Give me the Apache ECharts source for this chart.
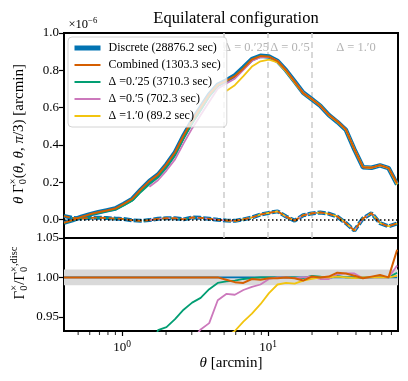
<!DOCTYPE html>
<html>
<head>
<meta charset="utf-8">
<script src="https://cdn.jsdelivr.net/npm/echarts@6.0.0/dist/echarts.min.js"></script>
<style>
  html, body { margin: 0; padding: 0; background: #fff; }
  #chart { width: 408px; height: 381px; }
</style>
</head>
<body>
<div id="chart"></div>
<script>
// theta bins [arcmin]
const theta = [0.400, 0.458, 0.524, 0.599, 0.686, 0.785, 0.898, 1.027, 1.175, 1.345,
  1.539, 1.761, 2.014, 2.305, 2.637, 3.018, 3.453, 3.951, 4.520, 5.172,
  5.918, 6.772, 7.748, 8.866, 10.14, 11.61, 13.28, 15.20, 17.39, 19.90,
  22.76, 26.05, 29.80, 34.10, 39.02, 44.65, 51.09, 58.45, 66.88, 76.53]

// theta * Gamma_0 (x 1e-6), main curves
const discMain = [-0.018, -0.004, 0.013, 0.027, 0.038, 0.048, 0.058, 0.083, 0.110, 0.160,
  0.205, 0.240, 0.295, 0.360, 0.450, 0.530, 0.600, 0.670, 0.722, 0.745,
  0.772, 0.815, 0.860, 0.878, 0.874, 0.850, 0.800, 0.740, 0.680, 0.645,
  0.610, 0.560, 0.523, 0.480, 0.375, 0.280, 0.277, 0.290, 0.275, 0.187]
const combMain = [-0.018, -0.004, 0.013, 0.027, 0.038, 0.048, 0.058, 0.083, 0.110, 0.160,
  0.205, 0.240, 0.295, 0.360, 0.450, 0.530, 0.600, 0.670, 0.722, 0.743,
  0.768, 0.810, 0.858, 0.876, 0.873, 0.849, 0.800, 0.739, 0.677, 0.646,
  0.610, 0.561, 0.526, 0.482, 0.376, 0.280, 0.277, 0.291, 0.275, 0.194]
const g025Main = [-0.020, -0.006, 0.011, 0.024, 0.034, 0.043, 0.052, 0.075, 0.100, 0.147,
  0.188, 0.224, 0.276, 0.341, 0.432, 0.513, 0.584, 0.660, 0.717, 0.741,
  0.769, 0.813, 0.859, 0.878, 0.874, 0.850, 0.800, 0.740, 0.679, 0.646,
  0.611, 0.559, 0.524, 0.480, 0.375, 0.280, 0.277, 0.290, 0.275, 0.188]
const g05Main = [null, null, null, null, null, null, null, null, null, null,
  0.175, 0.210, 0.262, 0.322, 0.408, 0.488, 0.560, 0.631, 0.701, 0.729,
  0.755, 0.802, 0.850, 0.870, 0.872, 0.850, 0.800, 0.739, 0.680, 0.646,
  0.609, 0.559, 0.525, 0.482, 0.377, 0.280, 0.277, 0.290, 0.275, 0.190]
const g10Main = [null, null, null, null, null, null, null, null, null, null,
  null, null, null, null, null, null, null, null, null, 0.689,
  0.720, 0.769, 0.820, 0.848, 0.857, 0.842, 0.794, 0.734, 0.677, 0.644,
  0.611, 0.560, 0.523, 0.480, 0.375, 0.280, 0.277, 0.290, 0.275, 0.187]

// near-zero component (dashed)
const discCross = [0.018, 0.008, 0.004, 0.008, 0.009, 0.007, 0.004, 0.002, -0.005, -0.008,
  -0.004, 0.003, 0.006, 0.006, 0.000, 0.010, 0.008, 0.003, -0.002, -0.006,
  -0.008, 0.000, 0.010, 0.026, 0.035, 0.043, 0.015, -0.007, 0.022, 0.032,
  0.037, 0.030, 0.015, -0.020, -0.060, 0.005, 0.033, -0.020, -0.037, -0.022]

// ratio to discrete
const ratioDisc = [1, 1, 1, 1, 1, 1, 1, 1, 1, 1, 1, 1, 1, 1, 1, 1, 1, 1, 1, 1,
  1, 1, 1, 1, 1, 1, 1, 1, 1, 1, 1, 1, 1, 1, 1, 1, 1, 1, 1, 1]
const ratioComb = [1, 1, 1, 1, 1, 1, 1, 1, 1, 1, 1, 1, 1, 1, 1, 1, 1, 1, 1, 0.997,
  0.994, 0.993, 0.998, 0.997, 0.999, 0.999, 1.000, 0.999, 0.996, 1.001,
  1.000, 1.001, 1.006, 1.005, 1.002, 0.999, 1.001, 1.003, 1.000, 1.035]
const ratio025 = [null, null, null, null, null, null, null, null, null, null,
  0.900, 0.933, 0.937, 0.947, 0.959, 0.968, 0.974, 0.985, 0.993, 0.995,
  0.996, 0.998, 0.999, 1.000, 1.000, 1.000, 1.000, 1.000, 0.999, 1.002,
  1.001, 0.999, 1.002, 1.000, 1.000, 0.999, 1.000, 1.001, 1.000, 1.006]
const ratio05 = [null, null, null, null, null, null, null, null, null, null,
  null, null, null, null, null, 0.920, 0.934, 0.942, 0.971, 0.979,
  0.978, 0.984, 0.988, 0.991, 0.998, 1.000, 1.000, 0.999, 1.000, 1.001,
  0.998, 0.998, 1.004, 1.005, 1.005, 0.999, 1.000, 1.000, 1.000, 1.015]
const ratio10 = [null, null, null, null, null, null, null, null, null, null,
  null, null, null, null, null, null, null, null, null, 0.925,
  0.932, 0.944, 0.954, 0.966, 0.980, 0.991, 0.993, 0.992, 0.996, 0.998,
  1.000, 1.000, 1.001, 1.000, 0.999, 1.000, 1.000, 1.000, 1.000, 1.002]

const topTicks = [0.0, 0.2, 0.4, 0.6, 0.8, 1.0]
const ratioTicks = [0.95, 1.0, 1.05]
const minorX = [0.5, 0.6, 0.7, 0.8, 0.9, 2, 3, 4, 5, 6, 7, 8, 9, 20, 30, 40, 50, 60, 70]
const deltaEdges = [5, 10, 20]

const FONT = "Liberation Serif"
const C = { disc: "#0173b2", comb: "#d55e00", g: "#029e73", p: "#cc78bc", y: "#f2c40f" }
const NAMES = [
  "Discrete (28876.2 sec)",
  "Combined (1303.3 sec)",
  "Δ =0.′25 (3710.3 sec)",
  "Δ =0.′5 (702.3 sec)",
  "Δ =1.′0 (89.2 sec)",
]

// [theta, value] pairs, skipping empty bins
const pairs = (vals, from) => {
  const out = []
  vals.forEach((v, i) => {
    if (v !== null && i >= (from || 0)) out.push([theta[i], v])
  })
  return out
}

const line = (name, data, color, width, grid, extra) =>
  Object.assign({
    name: name,
    type: "line",
    xAxisIndex: grid,
    yAxisIndex: grid,
    data: data,
    symbol: "none",
    silent: true,
    z: 2,
    lineStyle: { color: color, width: width },
    itemStyle: { color: color },
  }, extra || {})

// small latex-like label built from pieces (sub / superscripts)
const mathText = (pieces, cx, cy, rot, size) => {
  const ctx = document.createElement("canvas").getContext("2d")
  const kids = []
  let x = 0, lastX = 0, lastW = 0
  pieces.forEach((p) => {
    const fs = p.s ? size * 0.7 : size
    const font = (p.it ? "italic " : "") + fs + 'px "' + FONT + '"'
    ctx.font = font
    const w = ctx.measureText(p.t).width
    let px
    if (p.stack) {
      px = lastX
      x = Math.max(lastX + w, lastX + lastW)
    } else {
      px = x
      x += w
    }
    lastX = px
    lastW = w
    const dy = p.s === "sup" ? -size * 0.36 : p.s === "sub" ? size * 0.3 : 0
    kids.push({
      type: "text", x: px, y: dy,
      style: { text: p.t, font: font, fill: "#000", align: "left", verticalAlign: "middle",
        textAlign: "left", textVerticalAlign: "middle" },
    })
  })
  kids.forEach((k) => { k.x -= x / 2 })
  return { type: "group", x: cx, y: cy, rotation: rot, children: kids }
}

const tickStyle = { color: "#000", width: 1.2 }
const labelStyle = { fontFamily: FONT, fontSize: 13, color: "#000" }
const noteStyle = (txt) => ({ text: txt, font: '12.5px "' + FONT + '"', fill: "#b3b3b3",
  align: "center", verticalAlign: "middle", textAlign: "center", textVerticalAlign: "middle" })

const option = {
  animation: false,
  title: {
    text: "Equilateral configuration",
    left: 231, top: 5, textAlign: "center",
    textStyle: { fontFamily: FONT, fontSize: 16.5, fontWeight: "normal", color: "#000" },
  },
  legend: {
    data: NAMES.map((n, i) => ({ name: n, lineStyle: { width: i === 0 ? 5 : 2 } })),
    orient: "vertical",
    left: 68, top: 37,
    padding: [5, 6, 5, 4],
    itemWidth: 26, itemHeight: 12, itemGap: 5,
    itemStyle: { color: "rgba(0,0,0,0)", borderWidth: 0, opacity: 0 },
    backgroundColor: "rgba(255,255,255,0.8)",
    borderColor: "#d4d4d4", borderWidth: 1, borderRadius: 4,
    textStyle: { fontFamily: FONT, fontSize: 12, color: "#000", padding: [0, 0, 0, 3] },
    selectedMode: false,
  },
  grid: [
    { left: 64, right: 10, top: 33, height: 205, show: true, borderColor: "#000", borderWidth: 2 },
    { left: 64, right: 10, top: 238, height: 93, show: true, borderColor: "#000", borderWidth: 2 },
  ],
  xAxis: [
    {
      type: "log", gridIndex: 0, min: 0.4, max: 77.6,
      axisLine: { show: false, onZero: false }, axisTick: { show: false },
      axisLabel: { show: false }, splitLine: { show: false },
    },
    {
      type: "log", gridIndex: 1, min: 0.4, max: 77.6,
      axisLine: { show: false, onZero: false },
      axisTick: { show: true, length: 5, lineStyle: tickStyle },
      axisLabel: {
        showMinLabel: false, showMaxLabel: false, margin: 8,
        formatter: (v) => "{b|10}{s|" + Math.round(Math.log10(v)) + "}",
        rich: {
          b: { fontFamily: FONT, fontSize: 13, color: "#000" },
          s: { fontFamily: FONT, fontSize: 9.5, color: "#000", padding: [0, 0, 8, 0] },
        },
      },
      splitLine: { show: false },
      name: "{i|θ} [arcmin]",
      nameLocation: "middle", nameGap: 25,
      nameTextStyle: {
        fontFamily: FONT, fontSize: 15, color: "#000",
        rich: { i: { fontFamily: FONT, fontSize: 15, fontStyle: "italic", color: "#000" } },
      },
    },
  ],
  yAxis: [
    {
      type: "value", gridIndex: 0, min: -0.1, max: 1.0,
      axisLine: { show: false },
      axisTick: { show: true, length: 5, customValues: topTicks, lineStyle: tickStyle },
      axisLabel: Object.assign({ customValues: topTicks, margin: 5, formatter: (v) => v.toFixed(1) }, labelStyle),
      splitLine: { show: false },
    },
    {
      type: "value", gridIndex: 1, min: 0.932, max: 1.05,
      axisLine: { show: false },
      axisTick: { show: true, length: 5, customValues: ratioTicks, lineStyle: tickStyle },
      axisLabel: Object.assign({ customValues: ratioTicks, margin: 5, formatter: (v) => v.toFixed(2) }, labelStyle),
      splitLine: { show: false },
    },
  ],
  series: [
    // Delta boundaries
    line("edges", [], "#ccc", 0, 0, {
      markLine: {
        silent: true, symbol: ["none", "none"], z: 1, label: { show: false },
        lineStyle: { color: "#cccccc", type: [6, 4], width: 1.5 },
        data: deltaEdges.map((v) => ({ xAxis: v })),
      },
    }),
    line(NAMES[0], pairs(discMain), C.disc, 4.5, 0),
    line("disc-x", pairs(discCross), C.disc, 4, 0, { lineStyle: { color: C.disc, width: 4, type: [8, 2] } }),
    line(NAMES[2], pairs(g025Main), C.g, 1.8, 0),
    line("g025-x", pairs(discCross), C.g, 1.6, 0, { lineStyle: { color: C.g, width: 1.6, type: [5, 3] } }),
    line(NAMES[3], pairs(g05Main), C.p, 1.8, 0),
    line("g05-x", pairs(discCross, 10), C.p, 1.6, 0, { lineStyle: { color: C.p, width: 1.6, type: [5, 3] } }),
    line(NAMES[4], pairs(g10Main), C.y, 1.8, 0),
    line("g10-x", pairs(discCross, 19), C.y, 1.6, 0, { lineStyle: { color: C.y, width: 1.6, type: [5, 3] } }),
    line(NAMES[1], pairs(combMain), C.comb, 2, 0, { z: 3 }),
    line("comb-x", pairs(discCross), C.comb, 1.8, 0, {
      z: 3,
      lineStyle: { color: C.comb, width: 1.8, type: [6, 3] },
      markLine: {
        silent: true, symbol: ["none", "none"], label: { show: false },
        lineStyle: { color: "#000", type: [1.5, 2.5], width: 1.5 },
        data: [{ yAxis: 0 }],
      },
    }),
    // ratio panel
    line("r-disc", pairs(ratioDisc), C.disc, 1.8, 1, {
      markArea: {
        silent: true, z: 1,
        itemStyle: { color: "#d9d9d9" },
        data: [[{ yAxis: 0.99 }, { yAxis: 1.01 }]],
      },
    }),
    line("r-025", pairs(ratio025), C.g, 1.8, 1),
    line("r-05", pairs(ratio05), C.p, 1.8, 1),
    line("r-10", pairs(ratio10), C.y, 1.8, 1),
    line("r-comb", pairs(ratioComb), C.comb, 2, 1, { z: 3 }),
    // minor log ticks
    {
      type: "scatter", xAxisIndex: 1, yAxisIndex: 1, silent: true, clip: false,
      data: minorX.map((v) => [v, 0.932]),
      symbol: "rect", symbolSize: [1.1, 3], symbolOffset: [0, 2.5],
      itemStyle: { color: "#000" }, z: 5,
    },
  ],
  graphic: [
    mathText([{ t: "θ", it: 1 }, { t: " Γ" }, { t: "×", s: "sup" }, { t: "0", s: "sub", stack: 1 },
      { t: "(" }, { t: "θ", it: 1 }, { t: ", " }, { t: "θ", it: 1 }, { t: ", " }, { t: "π", it: 1 },
      { t: "/3) [arcmin]" }], 19, 134, Math.PI / 2, 15),
    mathText([{ t: "Γ" }, { t: "×", s: "sup" }, { t: "0", s: "sub", stack: 1 }, { t: "/Γ" },
      { t: "×,disc", s: "sup" }, { t: "0", s: "sub", stack: 1 }], 20, 273, Math.PI / 2, 15),
    mathText([{ t: "×10" }, { t: "−6", s: "sup" }], 83, 25, 0, 12.5),
    { type: "text", x: 246, y: 48, style: noteStyle("Δ = 0.′25") },
    { type: "text", x: 290, y: 48, style: noteStyle("Δ = 0.′5") },
    { type: "text", x: 356, y: 48, style: noteStyle("Δ = 1.′0") },
  ],
}

const chart = echarts.init(document.getElementById("chart"))
chart.setOption(option)
</script>
</body>
</html>
